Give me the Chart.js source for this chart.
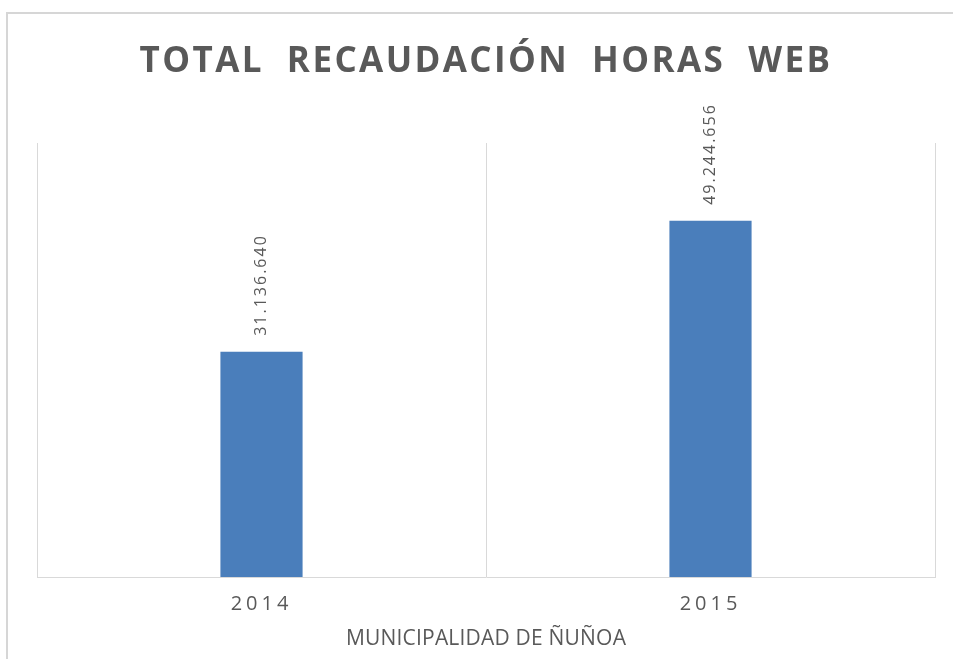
<!DOCTYPE html>
<html>
<head>
<meta charset="utf-8">
<script src="https://cdn.jsdelivr.net/npm/chart.js@4/dist/chart.umd.min.js"></script>
<style>
  html, body { margin: 0; padding: 0; background: #ffffff; }
  #wrap { position: relative; width: 953px; height: 659px; overflow: hidden; background: #fff; }
  #frame { position: absolute; left: 6px; top: 12px; width: 1000px; height: 700px;
           border-top: 2px solid #d6d6d6; border-left: 2px solid #d6d6d6; box-sizing: border-box; }
  #box { position: absolute; left: 0; top: 0; width: 953px; height: 659px; }
</style>
</head>
<body>
<div id="wrap">
  <div id="frame"></div>
  <div id="box"><canvas id="c"></canvas></div>
</div>
<script>
// ---- data ----
const categories = ["2014", "2015"];
const recaudacion = [31136640, 49244656];
const chartTitle = "TOTAL  RECAUDACIÓN  HORAS  WEB";
const axisTitle = "MUNICIPALIDAD DE ÑUÑOA";

function fmt(v) {
  return String(Math.round(v)).replace(/\B(?=(\d{3})+(?!\d))/g, ".");
}

const spacingPlugin = {
  id: 'spacing',
  afterLayout(chart) {
    const tb = chart.titleBlock;
    if (tb && !tb._patched) {
      const d = tb.draw.bind(tb);
      tb.draw = (a) => { const ctx = chart.ctx; ctx.letterSpacing = '2.4px'; d(a); ctx.letterSpacing = '0px'; };
      tb._patched = true;
    }
    const xs = chart.scales.x;
    if (xs && !xs._patched) {
      const dl = xs.drawLabels.bind(xs);
      xs.drawLabels = (a) => { const ctx = chart.ctx; ctx.letterSpacing = '4px'; dl(a); ctx.letterSpacing = '0px'; };
      const dt = xs.drawTitle.bind(xs);
      xs.drawTitle = (a) => { const ctx = chart.ctx; ctx.letterSpacing = '0.2px'; dt(a); ctx.letterSpacing = '0px'; };
      xs._patched = true;
    }
  }
};

const labelPlugin = {
  id: 'barLabels',
  afterDatasetsDraw(chart) {
    const ctx = chart.ctx;
    const meta = chart.getDatasetMeta(0);
    const data = chart.data.datasets[0].data;
    meta.data.forEach((bar, i) => {
      ctx.save();
      ctx.translate(bar.x, bar.y - 16);
      ctx.rotate(-Math.PI / 2);
      ctx.letterSpacing = '2px';
      ctx.font = '16px "Open Sans"';
      ctx.fillStyle = '#595959';
      ctx.textAlign = 'left';
      ctx.textBaseline = 'middle';
      ctx.fillText(fmt(data[i]), 0, 0);
      ctx.restore();
    });
  }
};

new Chart(document.getElementById('c'), {
  type: 'bar',
  data: {
    labels: categories,
    datasets: [{
      data: recaudacion,
      backgroundColor: '#4A7EBB',
      borderWidth: 0,
      categoryPercentage: 1,
      barPercentage: 0.183
    }]
  },
  options: {
    responsive: true,
    maintainAspectRatio: false,
    animation: false,
    layout: { padding: { left: 37, right: 18, top: 0, bottom: 0 } },
    plugins: {
      legend: { display: false },
      tooltip: { enabled: false },
      title: {
        display: true,
        text: chartTitle,
        color: '#595959',
        font: { family: '"Open Sans"', size: 35, weight: 'bold' },
        padding: { top: 41, bottom: 60 }
      }
    },
    scales: {
      x: {
        offset: true,
        grid: { display: true, offset: true, color: '#d9d9d9', drawTicks: false, lineWidth: 1 },
        border: { display: true, color: '#d9d9d9', width: 1 },
        ticks: { color: '#595959', font: { family: '"Open Sans"', size: 20 }, padding: 15 },
        title: {
          display: true, text: axisTitle, color: '#595959',
          font: { family: '"Open Sans"', size: 21 },
          padding: { top: 0, bottom: 7 }
        },
        afterFit(s) { s.height = 82; }
      },
      y: {
        display: false,
        min: 0,
        max: 60000000
      }
    }
  },
  plugins: [spacingPlugin, labelPlugin]
});
</script>
</body>
</html>
